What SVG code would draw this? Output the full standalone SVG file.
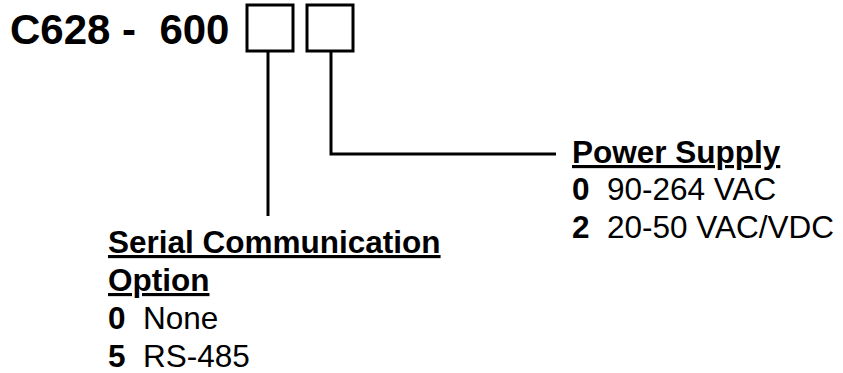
<svg xmlns="http://www.w3.org/2000/svg" width="843" height="373" viewBox="0 0 843 373">
<style>
text{font-family:"Liberation Sans",Arial,sans-serif;fill:#000;white-space:pre}
.t{font-size:42px;font-weight:bold}
.h{font-size:31.5px;font-weight:bold;text-decoration:underline}
.o{font-size:31.5px}
.b{font-weight:bold}
.box{fill:#fff;stroke:#000;stroke-width:3}
.ln{fill:none;stroke:#000;stroke-width:3}
</style>
<rect width="843" height="373" fill="#fff"/>
<g id="title">
<text class="t" x="10" y="44" xml:space="preserve">C628 -  600</text>
</g>
<g id="box1"><rect class="box" x="247" y="5" width="46" height="46"/></g>
<g id="box2"><rect class="box" x="307" y="5" width="46" height="46"/></g>
<g id="connectors">
<path class="ln" d="M268 51 V216"/>
<path class="ln" d="M331 51 V154 H556"/>
</g>
<g id="power">
<text class="h" x="572" y="163">Power Supply</text>
<text class="o" x="572" y="200" xml:space="preserve"><tspan class="b">0</tspan>  90-264 VAC</text>
<text class="o" x="572" y="238" xml:space="preserve"><tspan class="b">2</tspan>  20-50 VAC/VDC</text>
</g>
<g id="serial">
<text class="h" x="108" y="253">Serial Communication</text>
<text class="h" x="108" y="291">Option</text>
<text class="o" x="108" y="329" xml:space="preserve"><tspan class="b">0</tspan>  None</text>
<text class="o" x="108" y="367" xml:space="preserve"><tspan class="b">5</tspan>  RS-485</text>
</g>
</svg>
